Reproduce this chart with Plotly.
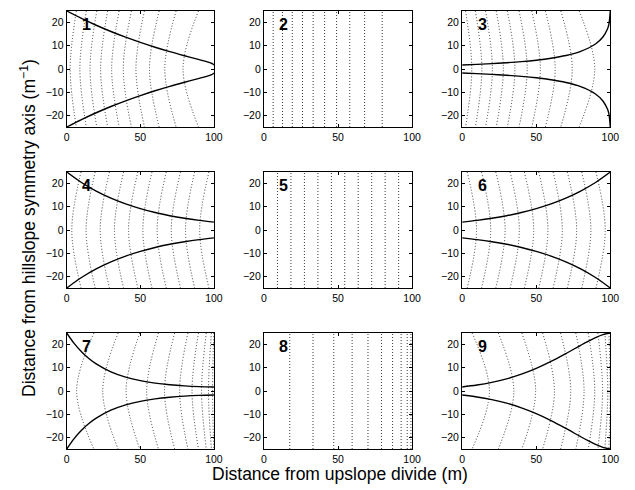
import plotly.graph_objects as go

# ---------------- data ----------------
X_TICKS = [0, 50, 100]
Y_TICKS = [-20, -10, 0, 10, 20]
PANEL_LABELS = ["1", "2", "3", "4", "5", "6", "7", "8", "9"]

# hillslope boundary half-width (solid lines), sampled along x
B1_X = [0, 10, 20, 30, 40, 50, 60, 70, 80, 90, 95, 98, 99, 100]
P1_W = [25, 21.80, 18.86, 16.17, 13.71, 11.45, 9.38, 7.48, 5.72, 4.04, 3.15, 2.53, 2.27, 1.74]
P3_W = [1.74, 1.99, 2.30, 2.69, 3.17, 3.79, 4.63, 5.80, 7.59, 10.76, 13.77, 17.15, 19.15, 25]
B2_X = [0, 10, 20, 30, 40, 50, 60, 70, 80, 90, 100]
P4_W = [25, 20.47, 16.76, 13.72, 11.23, 9.20, 7.53, 6.17, 5.05, 4.13, 3.38]
P6_W = [3.38, 4.13, 5.05, 6.17, 7.53, 9.20, 11.23, 13.72, 16.76, 20.47, 25]
B7_X = [0, 5, 10, 15, 20, 30, 40, 50, 60, 70, 80, 90, 100]
P7_W = [25, 20.52, 16.93, 14.04, 11.71, 8.28, 6.00, 4.46, 3.41, 2.69, 2.20, 1.89, 1.74]
B9_X = [0, 10, 20, 30, 40, 50, 60, 70, 80, 85, 90, 95, 100]
P9_W = [1.74, 2.56, 3.71, 5.24, 7.24, 9.74, 12.73, 16.13, 19.70, 21.41, 22.98, 24.27, 25]

# contour lines (dotted): x on the symmetry axis (C) and at y = +/-25 (E)
P1_C = [2.3, 8.9, 15.8, 23.0, 30.5, 38.4, 47.0, 56.2, 66.6, 79.0]
P1_E = [6.5, 13.3, 20.4, 27.8, 35.6, 43.9, 52.8, 62.8, 74.3, 89.5]
P2_X = [6.2, 12.5, 19.1, 26.0, 33.2, 40.9, 49.0, 57.9, 67.9, 79.8]
P3_C = [6.5, 13.3, 20.4, 27.8, 35.6, 43.9, 52.8, 62.8, 74.3, 89.5]
P3_E = [2.3, 8.9, 15.8, 23.0, 30.5, 38.4, 47.0, 56.2, 66.6, 79.0]
P4_C = [3.4, 13.1, 22.7, 32.4, 42.0, 51.7, 61.4, 71.0, 80.7, 90.3]
P4_E = [9.7, 19.3, 29.0, 38.6, 48.3, 57.9, 67.6, 77.3, 86.9, 96.6]
P5_X = [9.1, 18.2, 27.3, 36.4, 45.5, 54.5, 63.6, 72.7, 81.8, 90.9]
P6_C = [9.7, 19.3, 29.0, 38.6, 48.3, 57.9, 67.6, 77.3, 86.9, 96.6]
P6_E = [3.4, 13.1, 22.7, 32.4, 42.0, 51.7, 61.4, 71.0, 80.7, 90.3]
P7_C = [6.7, 24.4, 40.3, 54.3, 66.4, 76.7, 85.1, 91.6, 96.3, 99.1]
P7_E = [18.4, 34.9, 49.6, 62.3, 73.3, 82.3, 89.5, 94.8, 98.3, 99.9]
P8_X = [17.4, 33.1, 47.1, 59.5, 70.2, 79.3, 86.8, 92.6, 96.7, 99.2]
P9_C = [18.4, 34.9, 49.6, 62.3, 73.3, 82.3, 89.5, 94.8, 98.3, 99.9]
P9_E = [6.7, 24.4, 40.3, 54.3, 66.4, 76.7, 85.1, 91.6, 96.3, 99.1]

Y_EDGE = 25

PANELS = [
    dict(kind="curved", c=P1_C, e=P1_E, bx=B1_X, bw=P1_W),
    dict(kind="planar", x=P2_X),
    dict(kind="curved", c=P3_C, e=P3_E, bx=B1_X, bw=P3_W),
    dict(kind="curved", c=P4_C, e=P4_E, bx=B2_X, bw=P4_W),
    dict(kind="planar", x=P5_X),
    dict(kind="curved", c=P6_C, e=P6_E, bx=B2_X, bw=P6_W),
    dict(kind="curved", c=P7_C, e=P7_E, bx=B7_X, bw=P7_W),
    dict(kind="planar", x=P8_X),
    dict(kind="curved", c=P9_C, e=P9_E, bx=B9_X, bw=P9_W),
]

# ---------------- layout geometry ----------------
W, H = 635, 490
COLS = [(65, 215), (266, 417), (468, 619)]
ROWS = [(11, 127), (172, 288), (333, 449)]
FONT = "Liberation Sans, Arial, Helvetica, sans-serif"
DOT = "1px,2px"

fig = go.Figure()
layout = dict(
    width=W, height=H, margin=dict(l=0, r=0, t=0, b=0),
    paper_bgcolor="white", plot_bgcolor="white", showlegend=False,
    font=dict(family=FONT, color="black"),
)
annotations = []

for i, p in enumerate(PANELS):
    n = i + 1
    r, c = divmod(i, 3)
    xa = "x" if n == 1 else f"x{n}"
    ya = "y" if n == 1 else f"y{n}"
    # contour lines
    if p["kind"] == "planar":
        for xv in p["x"]:
            fig.add_trace(go.Scatter(x=[xv, xv], y=[-Y_EDGE, Y_EDGE], mode="lines",
                                     line=dict(color="#222", width=0.9, dash=DOT),
                                     xaxis=xa, yaxis=ya, hoverinfo="skip"))
    else:
        for xc, xe in zip(p["c"], p["e"]):
            fig.add_trace(go.Scatter(x=[xe, xc, xe], y=[Y_EDGE, 0, -Y_EDGE], mode="lines",
                                     line=dict(color="#222", width=0.9, dash=DOT, shape="spline"),
                                     xaxis=xa, yaxis=ya, hoverinfo="skip"))
        # boundaries
        fig.add_trace(go.Scatter(x=p["bx"], y=p["bw"], mode="lines",
                                 line=dict(color="black", width=1.4, shape="spline"),
                                 xaxis=xa, yaxis=ya, hoverinfo="skip"))
        fig.add_trace(go.Scatter(x=p["bx"], y=[-v for v in p["bw"]], mode="lines",
                                 line=dict(color="black", width=1.4, shape="spline"),
                                 xaxis=xa, yaxis=ya, hoverinfo="skip"))

    x0, x1 = COLS[c]
    y0, y1 = ROWS[r]
    common = dict(showgrid=False, zeroline=False, showline=True, mirror="allticks",
                  linecolor="black", linewidth=1.3, ticks="inside", ticklen=3,
                  tickcolor="black", tickwidth=1, tickfont=dict(size=10.5, family=FONT, color="black"))
    layout["xaxis" if n == 1 else f"xaxis{n}"] = dict(
        domain=[x0 / W, x1 / W], range=[0, 100], tickvals=X_TICKS,
        anchor=ya, **common)
    layout["yaxis" if n == 1 else f"yaxis{n}"] = dict(
        domain=[1 - y1 / H, 1 - y0 / H], range=[-25, 25], tickvals=Y_TICKS,
        anchor=xa, **common)
    annotations.append(dict(text=f"<b>{PANEL_LABELS[i]}</b>", x=13.5, y=19.2,
                            xref=xa, yref=ya, showarrow=False,
                            xanchor="center", yanchor="middle",
                            font=dict(size=16, family=FONT, color="black")))

annotations.append(dict(text="Distance from upslope divide (m)", x=344 / W, y=1 - 474 / H,
                        xref="paper", yref="paper", showarrow=False,
                        xanchor="center", yanchor="middle",
                        font=dict(size=17.5, family=FONT, color="black")))
annotations.append(dict(text="Distance from hillslope symmetry axis (m<sup>\u22121</sup>)",
                        x=26 / W, y=1 - 228.5 / H, xref="paper", yref="paper",
                        showarrow=False, textangle=-90, xanchor="center", yanchor="middle",
                        font=dict(size=17.5, family=FONT, color="black")))
layout["annotations"] = annotations
fig.update_layout(**layout)
fig.write_html("out.html")
